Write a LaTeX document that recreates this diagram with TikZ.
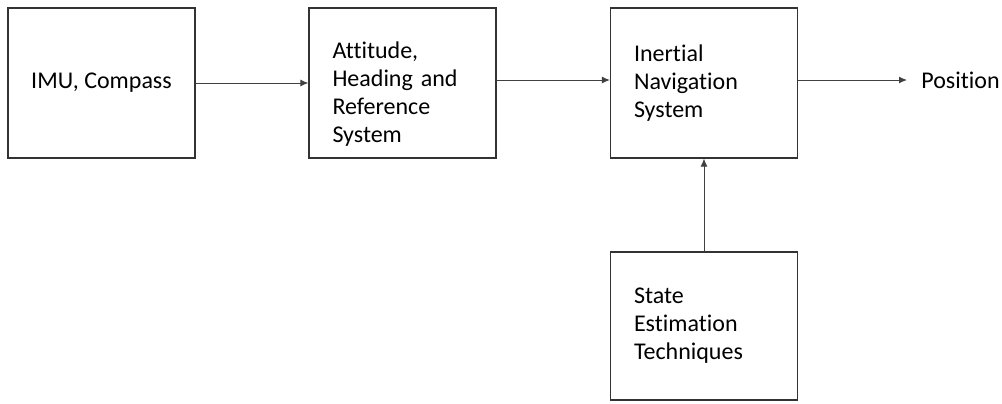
\documentclass[tikz,border=0pt]{standalone}
\usepackage{fontspec}
\setmainfont[Ligatures=NoCommon]{Carlito}
\usetikzlibrary{arrows.meta}
\tikzset{
  block/.style={draw=black!80, line width=0.6pt, minimum width=93.5pt, minimum height=75pt, font=\fontsize{12}{14}\selectfont},
  leftblock/.style={block, align=left, text width=70pt, inner xsep=11.75pt},
  link/.style={draw=black!75, line width=0.5pt, -{Latex[length=4pt,width=3.5pt]}}
}
\begin{document}
\begin{tikzpicture}[x=0.5pt,y=-0.5pt]
\useasboundingbox (0,0) rectangle (1002,403);
\node[block] (imu) at (101.5,83) {IMU, Compass};
\node[leftblock, text height=19pt] (ahrs) at (402.5,83) {Attitude,\\Heading and\\Reference\\System};
\node[leftblock] (ins) at (704,83) {Inertial\\Navigation\\System};
\node[leftblock, minimum height=74pt] (est) at (704,326) {State\\Estimation\\Techniques};
\node[font=\fontsize{12}{14}\selectfont, anchor=west, inner sep=7pt] (pos) at (907,80) {Position};

\draw[link] (imu) -- (ahrs);
\draw[link] ([yshift=1.5pt]ahrs.east) -- ([yshift=1.5pt]ins.west);
\draw[link] ([yshift=1.5pt]ins.east) -- (pos.west);
\draw[link] (est) -- (ins);
\end{tikzpicture}
\end{document}
